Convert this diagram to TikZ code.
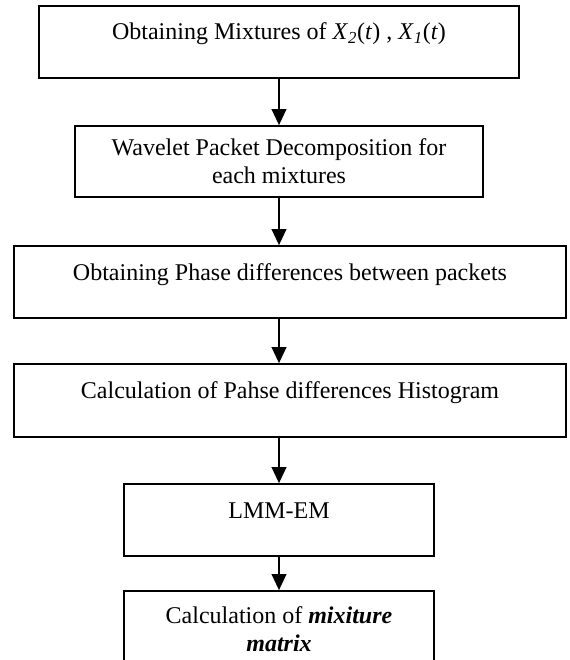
\documentclass[tikz,border=0pt]{standalone}
\usepackage{fontspec}
\setmainfont{Liberation Serif}
\usetikzlibrary{arrows.meta}
% italic signal name with subscript, e.g. X_2(t)
\newcommand\Xsig[1]{\textit{X}\textsubscript{\textit{#1}}(\textit{t})}
\begin{document}
\begin{tikzpicture}[x=0.75pt,y=-0.75pt,
  stage/.style={draw, line width=1.3pt, rectangle, inner sep=0pt, align=center,
    font=\fontsize{18}{21}\selectfont},
  oneline/.style={text height=13pt, text depth=16pt},
  flow/.style={line width=1.3pt, -{Triangle[length=12pt,width=11pt]}}]
\clip (0,0) rectangle (569,660);

\node[stage, oneline, minimum width=360pt, minimum height=54pt] (b1) at (279,42)
  {Obtaining Mixtures of \Xsig{2} , \Xsig{1}};
\node[stage, minimum width=306pt, minimum height=53.25pt] (b2) at (279,161.5)
  {Wavelet Packet Decomposition for\\each mixtures};
\node[stage, oneline, minimum width=414pt, minimum height=54pt] (b3) at (290,282)
  {Obtaining Phase differences between packets};
\node[stage, oneline, minimum width=414pt, minimum height=54.75pt] (b4) at (290,400.5)
  {Calculation of Pahse differences Histogram};
\node[stage, oneline, minimum width=232.5pt, minimum height=54pt] (b5) at (279,520)
  {LMM-EM};
\node[stage, minimum width=232.5pt, minimum height=57pt] (b6) at (279,629)
  {Calculation of \textbf{\textit{mixiture}}\\\textbf{\textit{matrix}}};

\draw[flow] (b1.south) -- (b2.north);
\draw[flow] (b2.south) -- (b2.south |- b3.north);
\draw[flow] (b2.south |- b3.south) -- (b2.south |- b4.north);
\draw[flow] (b5.north |- b4.south) -- (b5.north);
\draw[flow] (b5.south) -- (b6.north);
\end{tikzpicture}
\end{document}
